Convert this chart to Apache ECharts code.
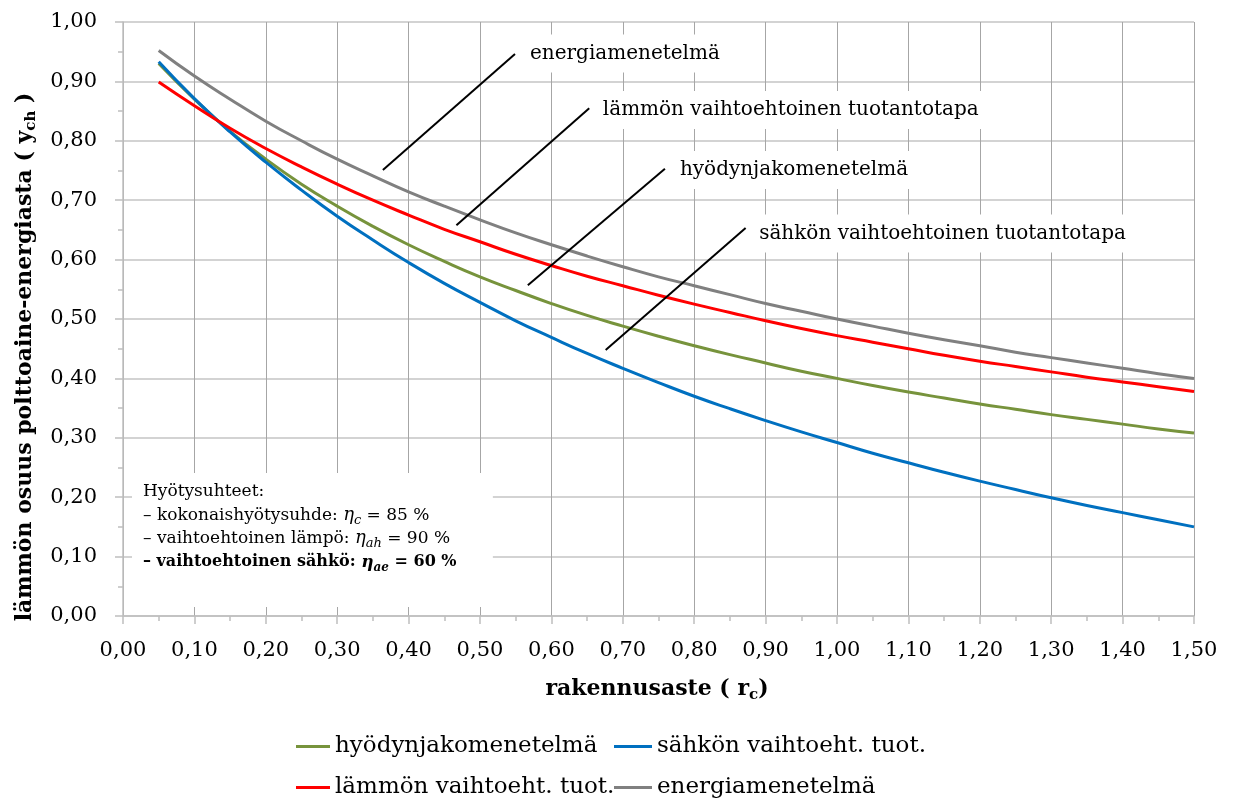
<!DOCTYPE html>
<html>
<head>
<meta charset="utf-8">
<script src="https://cdn.jsdelivr.net/npm/echarts@6/dist/echarts.min.js"></script>
<style>
  html, body { margin: 0; padding: 0; background: #ffffff; }
  #chart { width: 1235px; height: 802px; }
</style>
</head>
<body>
<div id="chart"></div>
<script>
// rakennusaste r_c (x axis)
const rakennusaste = [0.05, 0.10, 0.15, 0.20, 0.25, 0.30, 0.35, 0.40, 0.45, 0.50,
                      0.55, 0.60, 0.65, 0.70, 0.75, 0.80, 0.85, 0.90, 0.95, 1.00,
                      1.05, 1.10, 1.15, 1.20, 1.25, 1.30, 1.35, 1.40, 1.45, 1.50];

// lämmön osuus polttoaine-energiasta y_ch for each allocation method
const hyodynjako = [0.930, 0.870, 0.816, 0.769, 0.727, 0.690, 0.656, 0.625, 0.597, 0.571,
                    0.548, 0.526, 0.506, 0.488, 0.471, 0.455, 0.440, 0.426, 0.412, 0.400,
                    0.388, 0.377, 0.367, 0.357, 0.348, 0.339, 0.331, 0.323, 0.315, 0.308];
const sahkonVaihtoehtoinen = [0.933, 0.871, 0.815, 0.764, 0.717, 0.673, 0.633, 0.595, 0.560, 0.528,
                              0.497, 0.469, 0.442, 0.417, 0.393, 0.370, 0.349, 0.329, 0.310, 0.292,
                              0.274, 0.258, 0.242, 0.227, 0.213, 0.199, 0.186, 0.174, 0.162, 0.150];
const lammonVaihtoehtoinen = [0.899, 0.859, 0.821, 0.787, 0.756, 0.727, 0.700, 0.675, 0.651, 0.630,
                              0.609, 0.590, 0.572, 0.556, 0.540, 0.525, 0.511, 0.497, 0.484, 0.472,
                              0.461, 0.450, 0.439, 0.429, 0.420, 0.411, 0.402, 0.394, 0.386, 0.378];
const energiamenetelma = [0.952, 0.909, 0.870, 0.833, 0.800, 0.769, 0.741, 0.714, 0.690, 0.667,
                          0.645, 0.625, 0.606, 0.588, 0.571, 0.556, 0.541, 0.526, 0.513, 0.500,
                          0.488, 0.476, 0.465, 0.455, 0.444, 0.435, 0.426, 0.417, 0.408, 0.400];

const seriesNames = ['hyödynjakomenetelmä', 'sähkön vaihtoeht. tuot.', 'lämmön vaihtoeht. tuot.', 'energiamenetelmä'];
const seriesValues = [hyodynjako, sahkonVaihtoehtoinen, lammonVaihtoehtoinen, energiamenetelma];
const seriesColors = ['#77933C', '#0070C0', '#FF0000', '#808080'];

// callout texts with their leader lines, anchored in data units
const callouts = [
  { text: 'energiamenetelmä',                    line: [0.364, 0.751, 0.549, 0.946], at: [0.570, 0.947] },
  { text: 'lämmön vaihtoehtoinen tuotantotapa',  line: [0.467, 0.658, 0.653, 0.855], at: [0.672, 0.852] },
  { text: 'hyödynjakomenetelmä',                 line: [0.567, 0.557, 0.759, 0.753], at: [0.780, 0.751] },
  { text: 'sähkön vaihtoehtoinen tuotantotapa',  line: [0.676, 0.448, 0.872, 0.653], at: [0.891, 0.644] }
];

// efficiency note box (data-unit corners)
const noteBox = [0.0126, 0.2407, 0.518, 0.0152];

const FONT = 'DejaVu Serif';
const fmt = v => v.toFixed(2).replace('.', ',');

const chart = echarts.init(document.getElementById('chart'), null, { renderer: 'canvas' });

const legendText = { fontFamily: FONT, fontSize: 23, color: '#000' };
const legendItem = (name, left, top, w) => ({
  orient: 'horizontal',
  icon: 'rect',
  itemWidth: w,
  itemHeight: 3,
  itemGap: 0,
  padding: 0,
  left: left,
  top: top,
  selectedMode: false,
  textStyle: legendText,
  data: [{ name: name, textStyle: legendText }]
});

const option = {
  animation: false,
  backgroundColor: '#ffffff',
  textStyle: { fontFamily: FONT },
  grid: { left: 123, right: 41, top: 22, bottom: 186, containLabel: false },
  xAxis: {
    type: 'value', min: 0, max: 1.5, interval: 0.1,
    axisLine: { show: true, lineStyle: { color: '#bfbfbf', width: 1.5 } },
    axisTick: { show: true, length: 8, lineStyle: { color: '#bfbfbf', width: 1.5 } },
    minorTick: { show: true, splitNumber: 2, length: 5, lineStyle: { color: '#bfbfbf', width: 1.5 } },
    axisLabel: { formatter: fmt, fontFamily: FONT, fontSize: 21, color: '#000', margin: 24 },
    splitLine: { show: true, lineStyle: { color: '#a6a6a6', width: 1 } }
  },
  yAxis: {
    type: 'value', min: 0, max: 1, interval: 0.1,
    axisLine: { show: true, lineStyle: { color: '#bfbfbf', width: 1.5 } },
    axisTick: { show: true, length: 8, lineStyle: { color: '#bfbfbf', width: 1.5 } },
    minorTick: { show: true, splitNumber: 2, length: 5, lineStyle: { color: '#bfbfbf', width: 1.5 } },
    axisLabel: { formatter: fmt, fontFamily: FONT, fontSize: 21, color: '#000', margin: 26 },
    splitLine: { show: true, lineStyle: { color: '#c4c4c4', width: 1.5 } }
  },
  legend: [
    legendItem(seriesNames[0], 296, 735, 34),
    legendItem(seriesNames[1], 614, 735, 38),
    legendItem(seriesNames[2], 296, 776, 34),
    legendItem(seriesNames[3], 614, 776, 38)
  ],
  series: seriesNames.map((name, k) => ({
    name: name,
    type: 'line',
    data: rakennusaste.map((x, i) => [x, seriesValues[k][i]]),
    symbol: 'none',
    showSymbol: false,
    smooth: true,
    color: seriesColors[k],
    lineStyle: { color: seriesColors[k], width: 3 },
    z: 3 + k
  }))
};

chart.setOption(option);

// annotations placed from data coordinates
const toPx = p => chart.convertToPixel({ gridIndex: 0 }, p);
const graphics = [];

callouts.forEach(c => {
  const a = toPx([c.line[0], c.line[1]]);
  const b = toPx([c.line[2], c.line[3]]);
  const t = toPx(c.at);
  graphics.push({
    type: 'text', z: 50, x: t[0] - 10, y: t[1],
    style: {
      text: c.text, fontFamily: FONT, fontSize: 20, fill: '#000',
      align: 'left', verticalAlign: 'middle',
      backgroundColor: '#ffffff', padding: [9, 10, 9, 10]
    }
  });
  graphics.push({
    type: 'line', z: 60,
    shape: { x1: a[0], y1: a[1], x2: b[0], y2: b[1] },
    style: { stroke: '#000', lineWidth: 2 }
  });
});

const nb1 = toPx([noteBox[0], noteBox[1]]);
const nb2 = toPx([noteBox[2], noteBox[3]]);
graphics.push({
  type: 'rect', z: 50,
  shape: { x: nb1[0], y: nb1[1], width: nb2[0] - nb1[0], height: nb2[1] - nb1[1] },
  style: { fill: '#ffffff' }
});
const LH = 23.5;
graphics.push({
  type: 'text', z: 55, x: nb1[0] + 11, y: nb1[1] + 7,
  style: {
    text: [
      '{n|Hyötysuhteet:}',
      '{n|– kokonaishyötysuhde: }{i|η}{s|c}{n| = 85 %}',
      '{n|– vaihtoehtoinen lämpö: }{i|η}{s|ah}{n| = 90 %}',
      '{b|– vaihtoehtoinen sähkö: }{bi|η}{bs|ae}{b| = 60 %}'
    ].join('\n'),
    align: 'left', verticalAlign: 'top',
    rich: {
      n:  { fontFamily: FONT, fontSize: 17, lineHeight: LH, fill: '#000' },
      i:  { fontFamily: FONT, fontSize: 18, fontStyle: 'italic', lineHeight: LH, fill: '#000' },
      s:  { fontFamily: FONT, fontSize: 13, fontStyle: 'italic', lineHeight: 15, verticalAlign: 'bottom', fill: '#000' },
      b:  { fontFamily: FONT, fontSize: 16, fontWeight: 'bold', lineHeight: LH, fill: '#000' },
      bi: { fontFamily: FONT, fontSize: 17, fontWeight: 'bold', fontStyle: 'italic', lineHeight: LH, fill: '#000' },
      bs: { fontFamily: FONT, fontSize: 12, fontWeight: 'bold', fontStyle: 'italic', lineHeight: 15, verticalAlign: 'bottom', fill: '#000' }
    }
  }
});

// axis titles
graphics.push({
  type: 'text', z: 50, x: 25, y: 357, rotation: Math.PI / 2,
  style: {
    text: '{b|lämmön osuus polttoaine-energiasta ( y}{s|ch}{b| )}',
    align: 'center', verticalAlign: 'middle',
    rich: {
      b: { fontFamily: FONT, fontSize: 22, fontWeight: 'bold', lineHeight: 28, fill: '#000' },
      s: { fontFamily: FONT, fontSize: 15, fontWeight: 'bold', lineHeight: 18, verticalAlign: 'bottom', fill: '#000' }
    }
  }
});
graphics.push({
  type: 'text', z: 50, x: 657, y: 689,
  style: {
    text: '{b|rakennusaste ( r}{s|c}{b|)}',
    align: 'center', verticalAlign: 'middle',
    rich: {
      b: { fontFamily: FONT, fontSize: 22, fontWeight: 'bold', lineHeight: 28, fill: '#000' },
      s: { fontFamily: FONT, fontSize: 15, fontWeight: 'bold', lineHeight: 18, verticalAlign: 'bottom', fill: '#000' }
    }
  }
});

chart.setOption({ graphic: graphics });
</script>
</body>
</html>
